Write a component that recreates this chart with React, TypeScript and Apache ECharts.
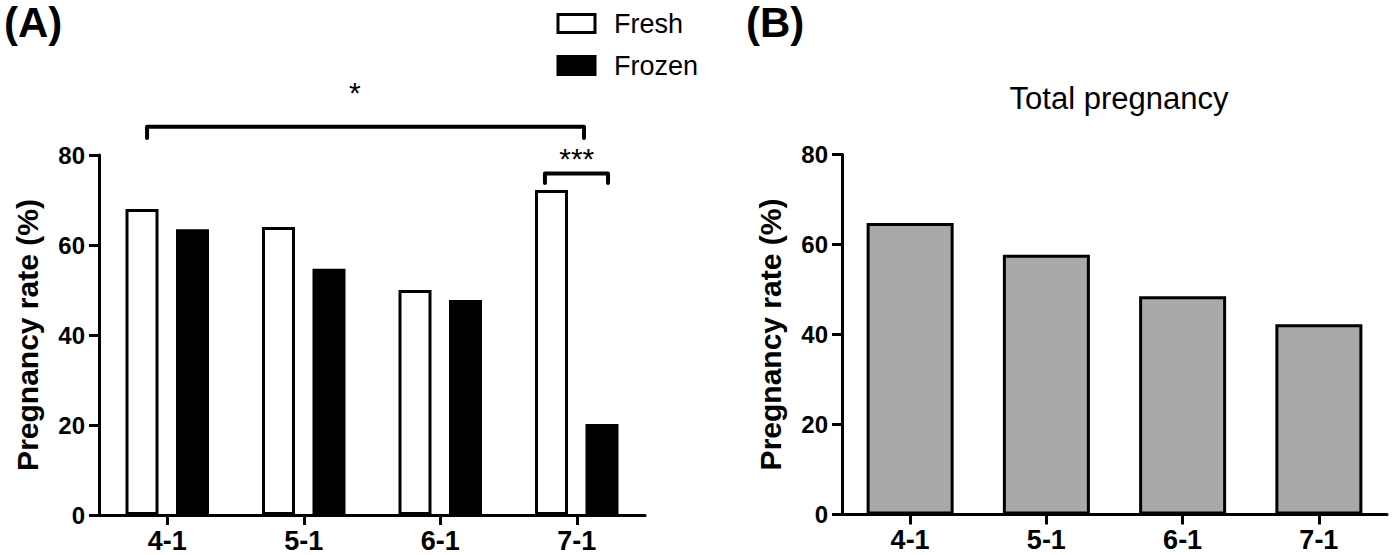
import React, { useEffect, useRef } from "react";
import * as echarts from "echarts";

const categories = ["4-1", "5-1", "6-1", "7-1"];
const freshValues = [68, 64, 50, 72.2];
const frozenValues = [63.5, 54.7, 47.8, 20.2];
const totalValues = [64.8, 57.7, 48.5, 42.3];
const yMin = 0;
const yMax = 80;
const yInterval = 20;
const legendNames = ["Fresh", "Frozen"];
const yAxisName = "Pregnancy rate (%)";
const panelBTitle = "Total pregnancy";

// significance brackets (x in fractional category index, y in data units)
const brackets = [
  { from: -0.148, to: 3.053, y: 86.3, end: 83.8, label: "*", labelX: 1.375, labelY: 95.4 },
  { from: 2.767, to: 3.229, y: 75.9, end: 73.8, label: "***", labelX: 3.0, labelY: 80.8 },
];

const FONT = '"Liberation Sans", Arial, Helvetica, sans-serif';

export default function App() {
  const ref = useRef<HTMLDivElement>(null);
  useEffect(() => {
    document.body.style.margin = "0";
    const chart = echarts.init(ref.current!, null, { renderer: "svg" });
    const axisLine = { show: true, lineStyle: { color: "#000", width: 3 } };
    const axisTick = { show: true, length: 10, lineStyle: { color: "#000", width: 3 } };
    const tickLabel = { fontSize: 24, fontWeight: "bold", color: "#000", fontFamily: FONT };
    const xAxisBase = (gi: number) => ({
      type: "category",
      gridIndex: gi,
      data: categories,
      axisLine,
      axisTick: { ...axisTick, alignWithLabel: true },
      axisLabel: { ...tickLabel, fontSize: 27, margin: 12 },
    });
    const yAxisBase = (gi: number) => ({
      type: "value",
      gridIndex: gi,
      min: yMin,
      max: yMax,
      interval: yInterval,
      axisLine,
      axisTick,
      splitLine: { show: false },
      axisLabel: { ...tickLabel, margin: 14 },
      name: yAxisName,
      nameLocation: "middle",
      nameGap: 57,
      nameTextStyle: { fontSize: 30, fontWeight: "bold", color: "#000", fontFamily: FONT },
    });
    chart.setOption({
      animation: false,
      backgroundColor: "#fff",
      textStyle: { fontFamily: FONT },
      title: [
        {
          text: panelBTitle,
          left: 1114,
          top: 78,
          textAlign: "center",
          textStyle: { fontSize: 31, fontWeight: "normal", color: "#000", fontFamily: FONT },
        },
      ],
      legend: {
        orient: "vertical",
        left: 551.5,
        top: 5,
        itemWidth: 37,
        itemHeight: 18,
        itemGap: 15,
        icon: "rect",
        textStyle: { fontSize: 27, color: "#000", fontFamily: FONT, lineHeight: 18, padding: [0, 0, 0, 14] },
        data: [
          { name: legendNames[0], itemStyle: { color: "#fff", borderColor: "#000", borderWidth: 3 } },
          { name: legendNames[1], itemStyle: { color: "#000", borderColor: "#000", borderWidth: 3 } },
        ],
      },
      grid: [
        { left: 99, top: 155, width: 546, height: 360 },
        { left: 842, top: 154.5, width: 545, height: 360 },
      ],
      xAxis: [xAxisBase(0), xAxisBase(1)],
      yAxis: [yAxisBase(0), yAxisBase(1)],
      series: [
        {
          name: legendNames[0],
          type: "bar",
          xAxisIndex: 0,
          yAxisIndex: 0,
          data: freshValues,
          barWidth: 33,
          barGap: "53%",
          itemStyle: { color: "#fff", borderColor: "#000", borderWidth: 3 },
        },
        {
          name: legendNames[1],
          type: "bar",
          xAxisIndex: 0,
          yAxisIndex: 0,
          data: frozenValues,
          barWidth: 33,
          barGap: "53%",
          itemStyle: { color: "#000", borderColor: "#000", borderWidth: 3 },
        },
        {
          name: "Total",
          type: "bar",
          xAxisIndex: 1,
          yAxisIndex: 1,
          data: totalValues,
          barWidth: 87,
          itemStyle: { color: "#a9a9a9", borderColor: "#000", borderWidth: 3 },
        },
      ],
    });

    const c0 = chart.convertToPixel({ xAxisIndex: 0 }, categories[0]) as number;
    const c1 = chart.convertToPixel({ xAxisIndex: 0 }, categories[1]) as number;
    const band = c1 - c0;
    const px = (i: number) => c0 + i * band;
    const py = (v: number) => chart.convertToPixel({ yAxisIndex: 0 }, v) as number;
    const elements: any[] = [
      {
        type: "text",
        left: 4,
        top: 1,
        style: { text: "(A)", fontSize: 42, fontWeight: "bold", fill: "#000", fontFamily: FONT },
      },
      {
        type: "text",
        left: 746,
        top: 1,
        style: { text: "(B)", fontSize: 42, fontWeight: "bold", fill: "#000", fontFamily: FONT },
      },
    ];
    brackets.forEach((b) => {
      const xa = px(b.from);
      const xb = px(b.to);
      const y = py(b.y);
      const ye = py(b.end);
      elements.push({
        type: "polyline",
        shape: { points: [[xa, ye], [xa, y], [xb, y], [xb, ye]] },
        style: { stroke: "#000", lineWidth: 4, fill: null, lineCap: "round", lineJoin: "round" },
      });
      elements.push({
        type: "text",
        x: px(b.labelX),
        y: py(b.labelY) + 7,
        style: {
          text: b.label,
          fontSize: 30,
          fill: "#000",
          fontFamily: FONT,
          align: "center",
          verticalAlign: "middle",
        },
      });
    });
    chart.setOption({ graphic: { elements } });
    return () => chart.dispose();
  }, []);
  return <div ref={ref} style={{ width: 1393, height: 555 }} />;
}
